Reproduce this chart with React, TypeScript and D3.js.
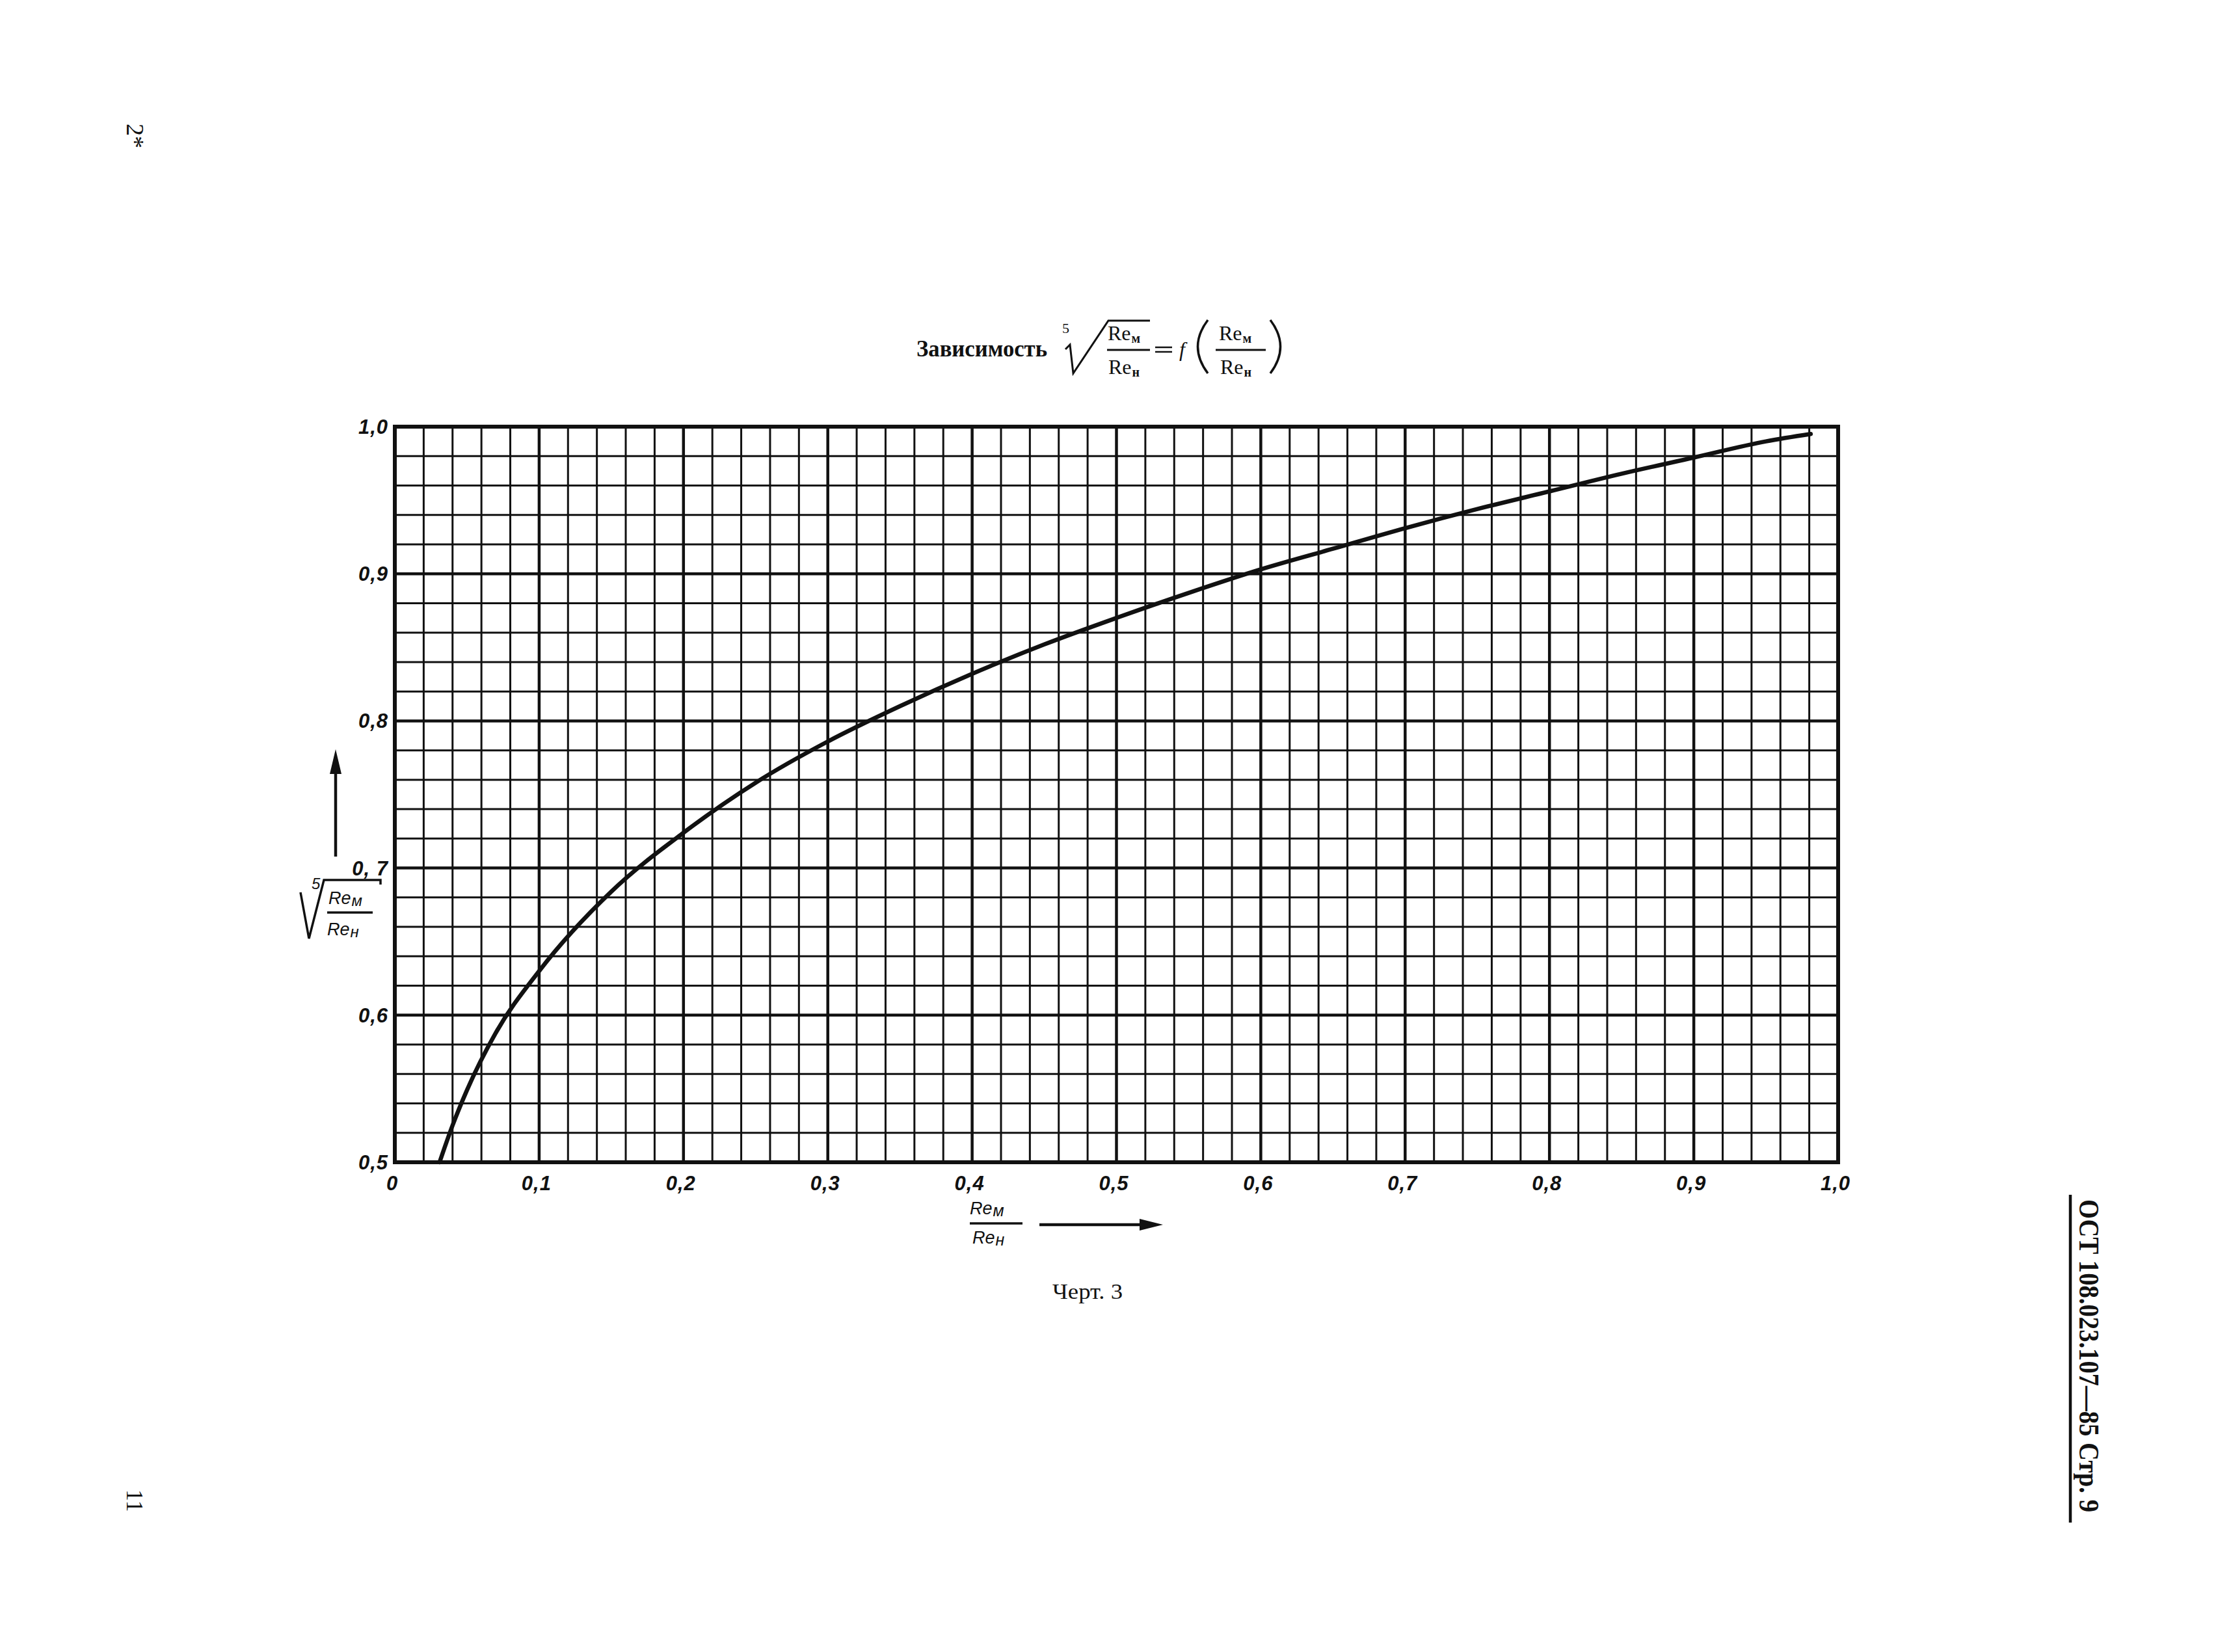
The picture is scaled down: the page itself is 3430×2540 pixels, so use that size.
import { useEffect, useRef } from 'react';
import * as d3 from 'd3';

const W = 3430;
const H = 2540;

// points (Re_m/Re_n -> fifth root)
const ratioValues = [0.031, 0.04, 0.05, 0.07, 0.1, 0.15, 0.2, 0.25, 0.3, 0.35, 0.4, 0.45, 0.5, 0.55, 0.6, 0.65, 0.7, 0.75, 0.8, 0.85, 0.9, 0.95, 0.981];
const rootValues = [0.5, 0.525, 0.549, 0.588, 0.63, 0.684, 0.724, 0.758, 0.786, 0.81, 0.832, 0.852, 0.87, 0.887, 0.903, 0.917, 0.931, 0.944, 0.956, 0.968, 0.979, 0.99, 0.995];

const xTickValues = [0, 0.1, 0.2, 0.3, 0.4, 0.5, 0.6, 0.7, 0.8, 0.9, 1.0];
const xTickLabels = ['0', '0,1', '0,2', '0,3', '0,4', '0,5', '0,6', '0,7', '0,8', '0,9', '1,0'];
const yTickValues = [0.5, 0.6, 0.7, 0.8, 0.9, 1.0];
const yTickLabels = ['0,5', '0,6', '0, 7', '0,8', '0,9', '1,0'];

const SANS = "'Liberation Sans', 'DejaVu Sans', sans-serif";
const SERIF = "'Liberation Serif', 'DejaVu Serif', serif";
const INK = '#111';

export default function App() {
  const svgRef = useRef<SVGSVGElement>(null);

  useEffect(() => {
    if (!svgRef.current) return;
    const svg = d3.select(svgRef.current);
    svg.selectAll('*').remove();

    svg.append('rect').attr('width', W).attr('height', H).attr('fill', '#fff');

    const x = d3.scaleLinear().domain([0, 1]).range([607, 2826]);
    const y = d3.scaleLinear().domain([0.5, 1]).range([1787, 656]);

    const isMajor = (v: number) => Math.abs(v * 10 - Math.round(v * 10)) < 1e-6;

    // grid
    const grid = svg.append('g').attr('stroke', INK);
    grid.selectAll('.vx')
      .data(x.ticks(50))
      .enter()
      .append('line')
      .attr('x1', (d) => x(d))
      .attr('x2', (d) => x(d))
      .attr('y1', y(0.5))
      .attr('y2', y(1))
      .attr('stroke-width', (d) => (isMajor(d) ? 4.5 : 3));
    grid.selectAll('.hy')
      .data(y.ticks(25))
      .enter()
      .append('line')
      .attr('x1', x(0))
      .attr('x2', x(1))
      .attr('y1', (d) => y(d))
      .attr('y2', (d) => y(d))
      .attr('stroke-width', (d) => (isMajor(d) ? 4.5 : 3));

    svg.append('rect')
      .attr('x', x(0))
      .attr('y', y(1))
      .attr('width', x(1) - x(0))
      .attr('height', y(0.5) - y(1))
      .attr('fill', 'none')
      .attr('stroke', INK)
      .attr('stroke-width', 6);

    // curve
    const pts = ratioValues.map((r, i) => [r, rootValues[i]] as [number, number]);
    const line = d3.line<[number, number]>()
      .x((d) => x(d[0]))
      .y((d) => y(d[1]))
      .curve(d3.curveMonotoneX);
    svg.append('path')
      .attr('d', line(pts))
      .attr('fill', 'none')
      .attr('stroke', INK)
      .attr('stroke-width', 6.5)
      .attr('stroke-linecap', 'round');

    // tick labels
    svg.selectAll('.xl')
      .data(xTickValues)
      .enter()
      .append('text')
      .attr('x', (d) => x(d) - 4)
      .attr('y', 1830)
      .attr('text-anchor', 'middle')
      .attr('font-family', SANS)
      .attr('font-style', 'italic')
      .attr('font-weight', 'bold')
      .attr('font-size', 31)
      .attr('letter-spacing', 1)
      .attr('fill', INK)
      .text((d, i) => xTickLabels[i]);

    svg.selectAll('.yl')
      .data(yTickValues)
      .enter()
      .append('text')
      .attr('x', 597)
      .attr('y', (d) => y(d) + 11)
      .attr('text-anchor', 'end')
      .attr('font-family', SANS)
      .attr('font-style', 'italic')
      .attr('font-weight', 'bold')
      .attr('font-size', 31)
      .attr('letter-spacing', 1)
      .attr('fill', INK)
      .text((d, i) => yTickLabels[i]);

    // "Re" with a cyrillic subscript
    const reSub = (
      g: d3.Selection<SVGGElement, unknown, null, undefined>,
      px: number,
      py: number,
      sub: string,
      font: string,
      size: number,
      subSize: number,
      italic: boolean,
      bold = false
    ) => {
      const t = g.append('text')
        .attr('x', px)
        .attr('y', py)
        .attr('font-family', font)
        .attr('font-style', italic ? 'italic' : 'normal')
        .attr('font-size', size)
        .attr('fill', INK);
      t.append('tspan').text('Re');
      t.append('tspan')
        .attr('dx', 1)
        .attr('dy', size * 0.12)
        .attr('font-size', subSize)
        .attr('font-weight', bold ? 'bold' : 'normal')
        .text(sub);
    };

    // title
    const title = svg.append('g');
    title.append('text')
      .attr('x', 1409)
      .attr('y', 548)
      .attr('font-family', SERIF)
      .attr('font-weight', 'bold')
      .attr('font-size', 35)
      .attr('textLength', 201)
      .attr('lengthAdjust', 'spacingAndGlyphs')
      .attr('fill', INK)
      .text('Зависимость');
    title.append('text')
      .attr('x', 1633)
      .attr('y', 512)
      .attr('font-family', SERIF)
      .attr('font-size', 22)
      .attr('fill', INK)
      .text('5');
    title.append('path')
      .attr('d', 'M1638,537 L1645,530 L1650,574 L1704,493 L1768,493')
      .attr('fill', 'none')
      .attr('stroke', INK)
      .attr('stroke-width', 3);
    reSub(title, 1703, 523, 'м', SERIF, 32, 20, false, true);
    title.append('line').attr('x1', 1702).attr('x2', 1768).attr('y1', 538).attr('y2', 538)
      .attr('stroke', INK).attr('stroke-width', 3);
    reSub(title, 1704, 575, 'н', SERIF, 32, 20, false, true);
    title.append('line').attr('x1', 1776).attr('x2', 1802).attr('y1', 534).attr('y2', 534)
      .attr('stroke', INK).attr('stroke-width', 2.5);
    title.append('line').attr('x1', 1776).attr('x2', 1802).attr('y1', 541).attr('y2', 541)
      .attr('stroke', INK).attr('stroke-width', 2.5);
    title.append('text')
      .attr('x', 1813)
      .attr('y', 548)
      .attr('font-family', SERIF)
      .attr('font-style', 'italic')
      .attr('font-size', 32)
      .attr('fill', INK)
      .text('f');
    title.append('path')
      .attr('d', 'M1857,492 Q1826,533 1857,574')
      .attr('fill', 'none')
      .attr('stroke', INK)
      .attr('stroke-width', 3.5);
    title.append('path')
      .attr('d', 'M1953,492 Q1984,533 1953,574')
      .attr('fill', 'none')
      .attr('stroke', INK)
      .attr('stroke-width', 3.5);
    reSub(title, 1874, 523, 'м', SERIF, 32, 20, false, true);
    title.append('line').attr('x1', 1869).attr('x2', 1946).attr('y1', 538).attr('y2', 538)
      .attr('stroke', INK).attr('stroke-width', 3);
    reSub(title, 1876, 575, 'н', SERIF, 32, 20, false, true);

    // y axis label
    const yl = svg.append('g');
    yl.append('line').attr('x1', 516).attr('x2', 516).attr('y1', 1317).attr('y2', 1180)
      .attr('stroke', INK).attr('stroke-width', 4.5);
    yl.append('path').attr('d', 'M516,1152 L507,1190 L525,1190 Z').attr('fill', INK);
    yl.append('path')
      .attr('d', 'M462,1372 L475,1443 L498,1353 L585,1353 L585,1360')
      .attr('fill', 'none')
      .attr('stroke', INK)
      .attr('stroke-width', 3.5);
    yl.append('text')
      .attr('x', 479)
      .attr('y', 1367)
      .attr('font-family', SANS)
      .attr('font-style', 'italic')
      .attr('font-size', 24)
      .attr('fill', INK)
      .text('5');
    reSub(yl, 505, 1390, 'м', SANS, 27, 24, true);
    yl.append('line').attr('x1', 503).attr('x2', 573).attr('y1', 1403).attr('y2', 1403)
      .attr('stroke', INK).attr('stroke-width', 3.5);
    reSub(yl, 503, 1438, 'н', SANS, 27, 24, true);

    // x axis label
    const xl = svg.append('g');
    reSub(xl, 1491, 1867, 'м', SANS, 27, 25, true);
    xl.append('line').attr('x1', 1491).attr('x2', 1572).attr('y1', 1881).attr('y2', 1881)
      .attr('stroke', INK).attr('stroke-width', 3.5);
    reSub(xl, 1495, 1912, 'н', SANS, 27, 25, true);
    xl.append('line').attr('x1', 1598).attr('x2', 1760).attr('y1', 1883).attr('y2', 1883)
      .attr('stroke', INK).attr('stroke-width', 4.5);
    xl.append('path').attr('d', 'M1788,1883 L1752,1874 L1752,1892 Z').attr('fill', INK);

    // caption
    svg.append('text')
      .attr('x', 1618)
      .attr('y', 1997)
      .attr('font-family', SERIF)
      .attr('font-size', 33)
      .attr('textLength', 108)
      .attr('lengthAdjust', 'spacingAndGlyphs')
      .attr('fill', INK)
      .text('Черт. 3');

    // page marks (rotated)
    svg.append('text')
      .attr('transform', 'translate(195,190) rotate(90)')
      .attr('font-family', SERIF)
      .attr('font-size', 38)
      .attr('fill', INK)
      .text('2*');
    svg.append('text')
      .attr('transform', 'translate(195,2290) rotate(90)')
      .attr('font-family', SERIF)
      .attr('font-size', 36)
      .attr('fill', INK)
      .text('11');
    svg.append('text')
      .attr('transform', 'translate(3197,1844) rotate(90)')
      .attr('font-family', SERIF)
      .attr('font-weight', 'bold')
      .attr('font-size', 44)
      .attr('textLength', 481)
      .attr('lengthAdjust', 'spacingAndGlyphs')
      .attr('fill', INK)
      .text('ОСТ 108.023.107—85  Стр. 9');
    svg.append('line').attr('x1', 3183).attr('x2', 3183).attr('y1', 1837).attr('y2', 2341)
      .attr('stroke', INK).attr('stroke-width', 4.5);
  }, []);

  return (
    <svg
      ref={svgRef}
      width={W}
      height={H}
      style={{ position: 'absolute', left: 0, top: 0, display: 'block' }}
    />
  );
}
